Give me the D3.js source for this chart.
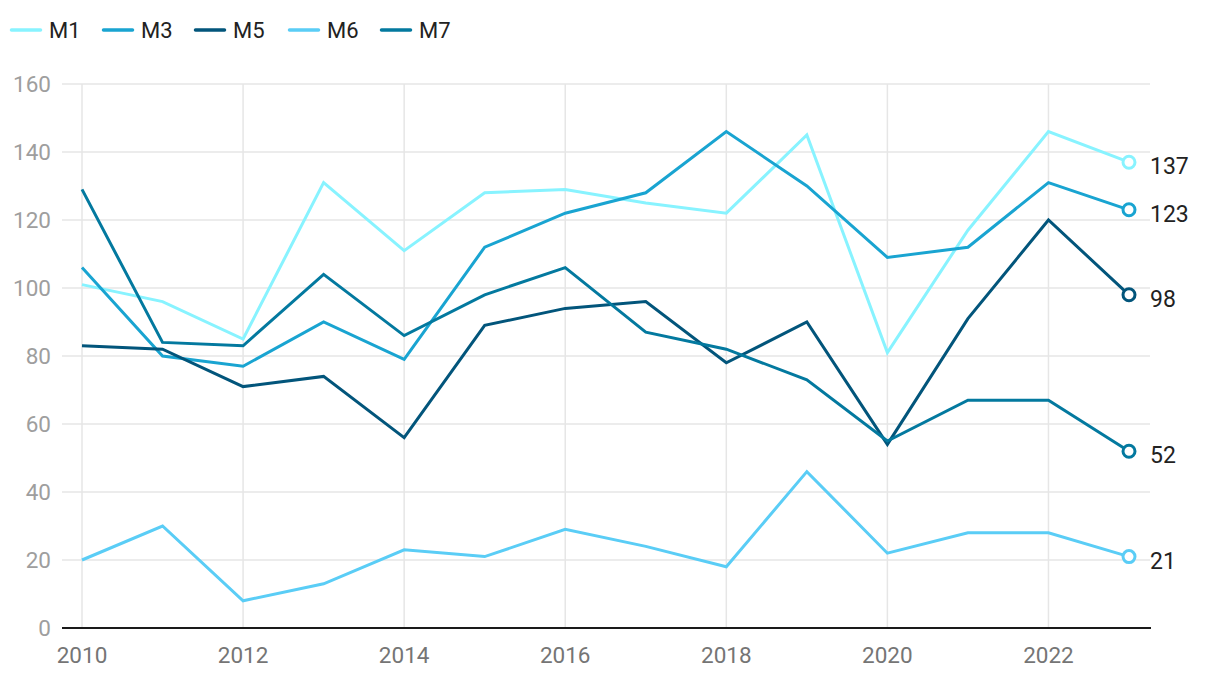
<!DOCTYPE html>
<html>
<head>
<meta charset="utf-8">
<script src="https://cdn.jsdelivr.net/npm/d3@7"></script>
<style>
  html, body { margin: 0; padding: 0; background: #fff; }
  svg { display: block; font-family: Roboto, "Noto Sans", sans-serif; }
</style>
</head>
<body>
<div id="chart"></div>
<script>
const years = d3.range(2010, 2024);
const seriesNames = ["M1", "M3", "M5", "M6", "M7"];
const colors = ["#88f3ff", "#19a4d1", "#02557b", "#5acdf6", "#03799f"];
const m1 = [101, 96, 85, 131, 111, 128, 129, 125, 122, 145, 81, 117, 146, 137];
const m3 = [106, 80, 77, 90, 79, 112, 122, 128, 146, 130, 109, 112, 131, 123];
const m5 = [83, 82, 71, 74, 56, 89, 94, 96, 78, 90, 54, 91, 120, 98];
const m6 = [20, 30, 8, 13, 23, 21, 29, 24, 18, 46, 22, 28, 28, 21];
const m7 = [129, 84, 83, 104, 86, 98, 106, 87, 82, 73, 55, 67, 67, 52];
const yTicks = [0, 20, 40, 60, 80, 100, 120, 140, 160];
const xTicks = [2010, 2012, 2014, 2016, 2018, 2020, 2022];

const series = seriesNames.map((name, i) => ({
  name, color: colors[i], values: [m1, m3, m5, m6, m7][i]
}));

const width = 1220, height = 678;
const margin = { top: 84, right: 70, bottom: 50, left: 62 };

const svg = d3.select("#chart").append("svg")
  .attr("width", width).attr("height", height);

const x = d3.scaleLinear().domain([2010, 2023]).range([82, 1129]);
const y = d3.scaleLinear().domain([0, 160]).range([628, 84]);

// gridlines
svg.append("g").selectAll("line").data(yTicks).join("line")
  .attr("x1", margin.left).attr("x2", 1150)
  .attr("y1", d => y(d)).attr("y2", d => y(d))
  .attr("stroke", "#e6e6e6").attr("stroke-width", 1.5);

svg.append("g").selectAll("line").data(xTicks).join("line")
  .attr("x1", d => x(d)).attr("x2", d => x(d))
  .attr("y1", y(160)).attr("y2", y(0))
  .attr("stroke", "#e6e6e6").attr("stroke-width", 1.5);

// y labels
svg.append("g").selectAll("text").data(yTicks).join("text")
  .attr("x", 51).attr("y", d => y(d))
  .attr("dy", "0.35em").attr("text-anchor", "end")
  .attr("fill", "#9e9e9e").attr("font-size", 22.5)
  .text(d => d);

// x labels
svg.append("g").selectAll("text").data(xTicks).join("text")
  .attr("x", d => x(d)).attr("y", 663)
  .attr("text-anchor", "middle")
  .attr("fill", "#757575").attr("font-size", 22.5)
  .text(d => d);

// baseline
svg.append("line")
  .attr("x1", margin.left).attr("x2", 1151)
  .attr("y1", y(0)).attr("y2", y(0))
  .attr("stroke", "#1a1a1a").attr("stroke-width", 2);

const line = d3.line()
  .x((d, i) => x(years[i]))
  .y(d => y(d));

const g = svg.append("g");
series.forEach(s => {
  g.append("path")
    .attr("d", line(s.values))
    .attr("fill", "none")
    .attr("stroke", s.color)
    .attr("stroke-width", 3)
    .attr("stroke-linejoin", "miter");
});

// end markers + labels
series.forEach(s => {
  const last = s.values[s.values.length - 1];
  g.append("circle")
    .attr("cx", x(2023)).attr("cy", y(last)).attr("r", 6)
    .attr("fill", "#fff").attr("stroke", s.color).attr("stroke-width", 3);
  svg.append("text")
    .attr("x", 1150).attr("y", y(last) + 4)
    .attr("dy", "0.35em")
    .attr("fill", "#222").attr("font-size", 23)
    .text(last);
});

// legend
const legendX = [10, 102, 194, 288, 380];
const leg = svg.append("g").selectAll("g").data(series).join("g")
  .attr("transform", (d, i) => `translate(${legendX[i]},30)`);
leg.append("line")
  .attr("x1", 1.5).attr("x2", 30.5)
  .attr("stroke", d => d.color).attr("stroke-width", 3.5)
  .attr("stroke-linecap", "round");
leg.append("text")
  .attr("x", 39).attr("dy", "0.35em")
  .attr("fill", "#222").attr("font-size", 22)
  .text(d => d.name);
</script>
</body>
</html>
